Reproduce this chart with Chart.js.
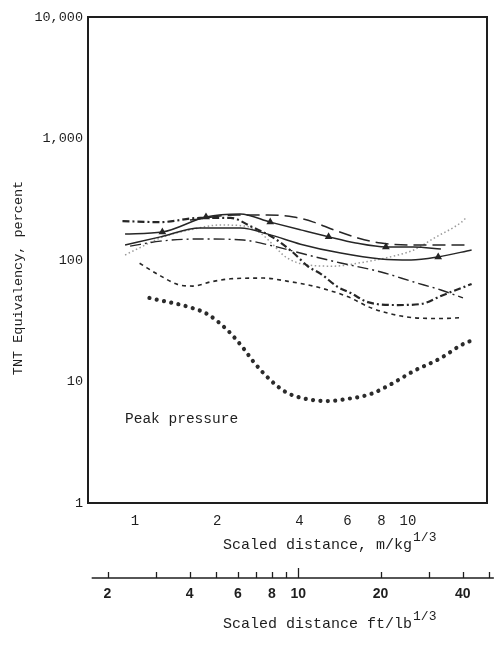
<!DOCTYPE html>
<html>
<head>
<meta charset="utf-8">
<title>TNT Equivalency - Peak pressure</title>
<script src="https://cdn.jsdelivr.net/npm/chart.js@4/dist/chart.umd.min.js"></script>
<style>
  html, body { margin: 0; padding: 0; background: #ffffff; }
  #wrap { width: 497px; height: 646px; }
</style>
</head>
<body>
<div id="wrap"><canvas id="c" width="497" height="646"></canvas></div>
<script>
// Scaled distance (m/kg^1/3) and TNT equivalency (percent) for each curve
const peakDist = [1.13, 1.62, 1.84, 2.18, 2.49, 2.72, 3.13, 3.56, 4.11, 5.08, 6.02, 7.31, 8.81, 10.5, 13.2, 15.7, 17.3];
const peakTnt  = [48.7, 40.3, 35.9, 26.5, 18.9, 14.5, 10.3, 8.2, 7.3, 6.9, 7.2, 7.9, 9.7, 12.2, 15.6, 20.0, 22.0];

const shortDist = [1.04, 1.24, 1.43, 1.63, 1.89, 2.24, 2.96, 3.6, 4.5, 6.0, 7.4, 9.9, 13.1, 15.7];
const shortTnt  = [94, 74, 63, 61, 66, 70, 71, 67, 61, 50, 40, 34, 33, 33.5];

const heavyDist = [0.90, 1.24, 1.73, 2.24, 2.65, 3.22, 3.78, 4.32, 4.79, 5.53, 6.17, 7.13, 9.19, 11.2, 13.2, 15.7, 17.1];
const heavyTnt  = [209, 205, 222, 222, 190, 152, 116, 88, 77, 60, 53.5, 45, 42.6, 43.5, 50.6, 58.9, 63.5];

const longDist = [1.59, 2.37, 3.06, 3.81, 4.51, 5.35, 6.55, 7.96, 10.5, 14.0, 16.8];
const longTnt  = [213, 235, 235, 226, 205, 177, 152, 138, 133, 133, 133];

const solidADist = [0.92, 1.26, 1.82, 2.43, 3.13, 4.04, 5.12, 6.44, 8.30, 10.5, 13.2];
const solidATnt  = [164, 170, 226, 239, 205, 177, 155, 138, 128, 128, 123];

const solidBDist = [0.92, 1.24, 1.73, 2.43, 3.13, 4.04, 5.67, 7.96, 10.26, 12.9, 17.1];
const solidBTnt  = [133, 155, 183, 183, 161, 135, 114, 102, 100, 106, 121];

const dashDotDist = [0.96, 1.24, 1.73, 2.49, 3.22, 4.29, 5.67, 7.96, 10.5, 13.2, 15.9];
const dashDotTnt  = [130, 143, 149, 146, 130, 110, 94.5, 79.7, 65.9, 56.6, 48.7];

const lightDist = [0.92, 1.04, 1.24, 1.59, 2.05, 2.54, 2.88, 3.19, 3.56, 4.29, 5.35, 6.89, 9.19, 10.5, 12.5, 15.7, 16.3];
const lightTnt  = [110, 126, 152, 177, 194, 190, 167, 135, 106, 91, 89, 96, 110, 121, 152, 205, 222];

// Axis ticks
const xTicksMetric = [1, 2, 4, 6, 8, 10];
const yTicks = [1, 10, 100, 1000, 10000];
const yTickLabels = ['1', '10', '100', '1,000', '10,000'];
const ftTicks = [2, 3, 4, 5, 6, 7, 8, 9, 10, 20, 30, 40, 50];
const ftTickLabels = [2, 4, 6, 8, 10, 20, 40];

// 1 ft/lb^1/3 expressed in m/kg^1/3
const FT_TO_M = 0.3048 / Math.cbrt(0.45359237);

const INK = '#262626';
const MONO = '"Liberation Mono", "DejaVu Sans Mono", monospace';

function pts(xs, ys) { return xs.map((x, i) => ({ x: x, y: ys[i] })); }

function curve(label, xs, ys, extra) {
  return Object.assign({
    label: label,
    data: pts(xs, ys),
    borderColor: INK,
    backgroundColor: INK,
    borderWidth: 1.4,
    pointRadius: 0,
    fill: false,
    cubicInterpolationMode: 'monotone'
  }, extra || {});
}

const markerIdxA = [1, 2, 4, 6, 8];
const markerIdxB = [9];

const datasets = [
  curve('Peak pressure (dots)', peakDist, peakTnt, { borderWidth: 4.2, borderDash: [0.01, 7.4], borderCapStyle: 'round', borderColor: '#2b2b2b' }),
  curve('Short dash', shortDist, shortTnt, { borderWidth: 1.6, borderDash: [4, 4] }),
  curve('Heavy dash-dot', heavyDist, heavyTnt, { borderWidth: 2.2, borderDash: [7, 3, 2, 3] }),
  curve('Long dash', longDist, longTnt, { borderWidth: 1.5, borderDash: [13, 6] }),
  curve('Solid A', solidADist, solidATnt, {
    borderWidth: 1.5,
    pointStyle: 'triangle',
    pointRadius: ctx => markerIdxA.includes(ctx.dataIndex) ? 3 : 0
  }),
  curve('Solid B', solidBDist, solidBTnt, {
    borderWidth: 1.5,
    pointStyle: 'triangle',
    pointRadius: ctx => markerIdxB.includes(ctx.dataIndex) ? 3 : 0
  }),
  curve('Dash-dot', dashDotDist, dashDotTnt, { borderWidth: 1.4, borderDash: [11, 4, 2, 4] }),
  curve('Light dotted', lightDist, lightTnt, { borderWidth: 1.5, borderDash: [1.5, 2.5], borderColor: '#9a9a9a' })
];

function drawSup(ctx, text, sup, x, y, font, supFont) {
  ctx.font = font;
  ctx.fillText(text, x, y);
  const w = ctx.measureText(text).width;
  ctx.font = supFont;
  ctx.fillText(sup, x + w + 1, y - 7);
}

// Frame, annotation text and the ft/lb^1/3 scale drawn below the chart
const decorations = {
  id: 'decorations',
  afterDraw(chart) {
    const ctx = chart.ctx;
    const a = chart.chartArea;
    const xs = chart.scales.x;
    ctx.save();

    // plot frame
    ctx.strokeStyle = '#1e1e1e';
    ctx.lineWidth = 2;
    ctx.strokeRect(a.left, a.top, a.right - a.left, a.bottom - a.top);

    ctx.fillStyle = '#1e1e1e';
    ctx.textBaseline = 'middle';
    ctx.textAlign = 'left';

    // annotation inside the plot
    ctx.font = '14.5px ' + MONO;
    ctx.fillText('Peak pressure', 125, 419);

    // metric axis title
    drawSup(ctx, 'Scaled distance, m/kg', '1/3', 223, 545, '15px ' + MONO, '13px ' + MONO);

    // y axis title
    ctx.save();
    ctx.translate(18, 278);
    ctx.rotate(-Math.PI / 2);
    ctx.textAlign = 'center';
    ctx.font = '13.5px ' + MONO;
    ctx.fillText('TNT Equivalency, percent', 0, 0);
    ctx.restore();

    // secondary scale in ft/lb^1/3, placed through the metric x scale
    const ly = 578;
    const px = v => xs.getPixelForValue(v * FT_TO_M);
    ctx.strokeStyle = '#1e1e1e';
    ctx.lineWidth = 1.6;
    ctx.beginPath();
    ctx.moveTo(px(1.75), ly);
    ctx.lineTo(px(52), ly);
    ctx.stroke();
    ctx.lineWidth = 1.3;
    ftTicks.forEach(v => {
      const x = Math.round(px(v)) + 0.5;
      const h = v === 10 ? 10 : 6;
      ctx.beginPath();
      ctx.moveTo(x, ly);
      ctx.lineTo(x, ly - h);
      ctx.stroke();
    });
    ctx.textAlign = 'center';
    ctx.font = 'bold 14px "Liberation Sans", Arial, sans-serif';
    ftTickLabels.forEach(v => {
      ctx.fillText(String(v), px(v), 594);
    });
    ctx.textAlign = 'left';
    drawSup(ctx, 'Scaled distance ft/lb', '1/3', 223, 624, '15px ' + MONO, '13px ' + MONO);

    ctx.restore();
  }
};

new Chart(document.getElementById('c'), {
  type: 'line',
  data: { datasets: datasets },
  plugins: [decorations],
  options: {
    responsive: false,
    animation: false,
    devicePixelRatio: 1,
    layout: { padding: { left: 0, right: 10, top: 17, bottom: 0 } },
    plugins: {
      legend: { display: false },
      tooltip: { enabled: false }
    },
    scales: {
      x: {
        type: 'logarithmic',
        min: 0.673,
        max: 19.47,
        grid: { display: false, drawTicks: false },
        border: { display: false },
        afterBuildTicks: s => { s.ticks = xTicksMetric.map(v => ({ value: v })); },
        afterFit: s => { s.height = 143; },
        ticks: {
          autoSkip: false,
          maxRotation: 0,
          padding: 10,
          color: '#1e1e1e',
          font: { family: MONO, size: 14 },
          callback: v => String(v)
        }
      },
      y: {
        type: 'logarithmic',
        min: 1,
        max: 10000,
        grid: { display: false, drawTicks: false },
        border: { display: false },
        afterBuildTicks: s => { s.ticks = yTicks.map(v => ({ value: v })); },
        afterFit: s => { s.width = 88; },
        ticks: {
          autoSkip: false,
          padding: 5,
          color: '#1e1e1e',
          font: { family: MONO, size: 13.5 },
          callback: v => yTickLabels[yTicks.indexOf(v)]
        }
      }
    }
  }
});
</script>
</body>
</html>
